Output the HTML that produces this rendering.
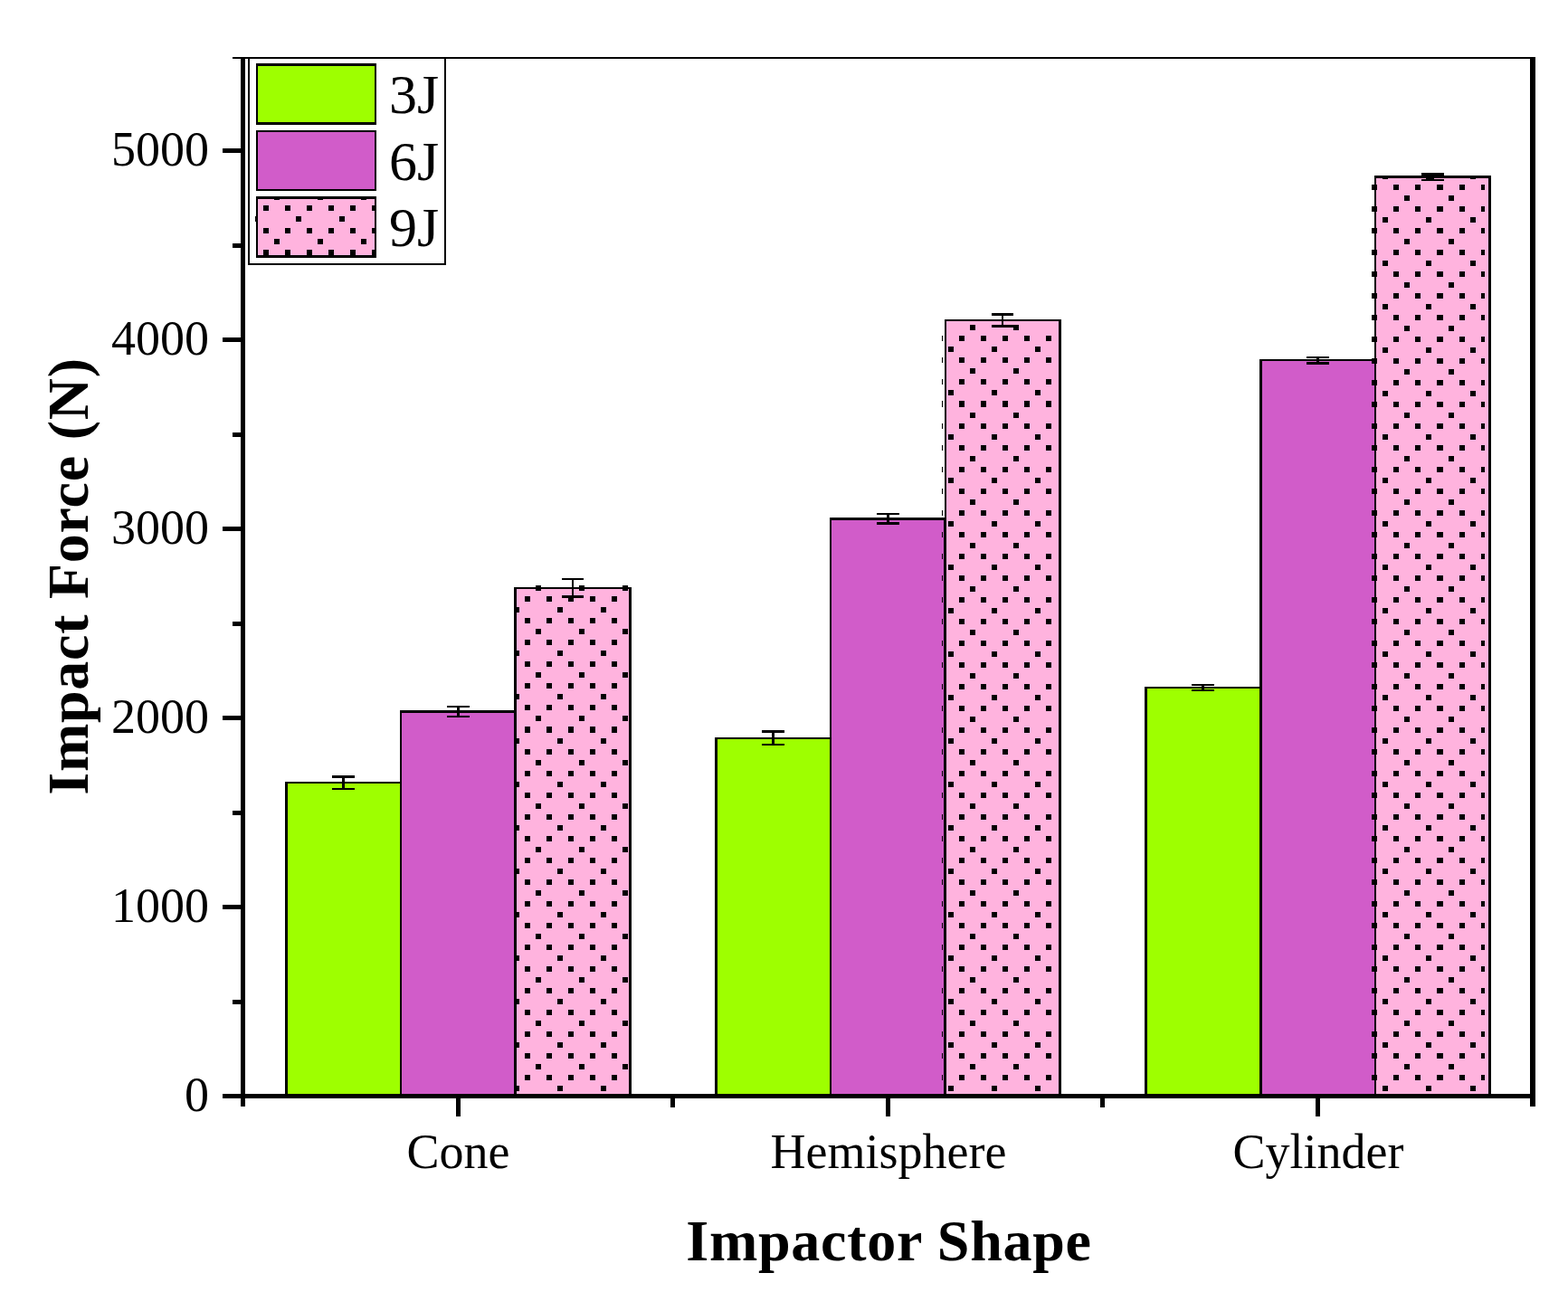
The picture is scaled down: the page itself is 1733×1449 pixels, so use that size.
<!DOCTYPE html>
<html lang="en"><head><meta charset="utf-8"><title>Impact Force vs Impactor Shape</title>
<style>
html,body{margin:0;padding:0;background:#fff;}
body{width:1733px;height:1449px;overflow:hidden;}
svg{display:block;}
text{font-family:"Liberation Serif",serif;fill:#000;}
.t{font-size:54px;}
.l{font-size:62px;}
.b{font-size:64px;font-weight:bold;letter-spacing:0.75px;}
</style></head><body>
<svg width="1733" height="1449" viewBox="0 0 1733 1449">
<rect width="1733" height="1449" fill="#fff"/>

<g shape-rendering="crispEdges">
<rect x="315" y="864" width="129" height="347" fill="#000"/>
<rect x="318" y="866" width="124" height="345" fill="#9EFF00"/>
<rect x="442" y="785" width="129" height="426" fill="#000"/>
<rect x="444" y="788" width="124" height="423" fill="#D15CC9"/>
<rect x="568" y="649" width="130" height="562" fill="#000"/>
<rect x="571" y="651" width="124" height="560" fill="#FFB3DE"/>
<rect x="790" y="815" width="129" height="396" fill="#000"/>
<rect x="793" y="817" width="124" height="394" fill="#9EFF00"/>
<rect x="917" y="572" width="129" height="639" fill="#000"/>
<rect x="919" y="575" width="124" height="636" fill="#D15CC9"/>
<rect x="1044" y="353" width="129" height="858" fill="#000"/>
<rect x="1046" y="355" width="124" height="856" fill="#FFB3DE"/>
<rect x="1265" y="759" width="130" height="452" fill="#000"/>
<rect x="1268" y="761" width="124" height="450" fill="#9EFF00"/>
<rect x="1392" y="397" width="129" height="814" fill="#000"/>
<rect x="1395" y="399" width="124" height="812" fill="#D15CC9"/>
<rect x="1519" y="194" width="129" height="1017" fill="#000"/>
<rect x="1521" y="197" width="124" height="1014" fill="#FFB3DE"/>
<path d="M592 647h6v6h-6zM640 647h6v6h-6zM688 647h6v6h-6zM580 659h6v6h-6zM604 659h6v6h-6zM628 659h6v6h-6zM652 659h6v6h-6zM676 659h6v6h-6zM568 671h6v6h-6zM616 671h6v6h-6zM664 671h6v6h-6zM580 683h6v6h-6zM604 683h6v6h-6zM628 683h6v6h-6zM652 683h6v6h-6zM676 683h6v6h-6zM592 695h6v6h-6zM640 695h6v6h-6zM688 695h6v6h-6zM580 707h6v6h-6zM604 707h6v6h-6zM628 707h6v6h-6zM652 707h6v6h-6zM676 707h6v6h-6zM568 719h6v6h-6zM616 719h6v6h-6zM664 719h6v6h-6zM580 731h6v6h-6zM604 731h6v6h-6zM628 731h6v6h-6zM652 731h6v6h-6zM676 731h6v6h-6zM592 743h6v6h-6zM640 743h6v6h-6zM688 743h6v6h-6zM580 755h6v6h-6zM604 755h6v6h-6zM628 755h6v6h-6zM652 755h6v6h-6zM676 755h6v6h-6zM568 767h6v6h-6zM616 767h6v6h-6zM664 767h6v6h-6zM580 779h6v6h-6zM604 779h6v6h-6zM628 779h6v6h-6zM652 779h6v6h-6zM676 779h6v6h-6zM592 791h6v6h-6zM640 791h6v6h-6zM688 791h6v6h-6zM580 803h6v7h-6zM604 803h6v7h-6zM628 803h6v7h-6zM652 803h6v7h-6zM676 803h6v7h-6zM568 816h6v6h-6zM616 816h6v6h-6zM664 816h6v6h-6zM580 828h6v6h-6zM604 828h6v6h-6zM628 828h6v6h-6zM652 828h6v6h-6zM676 828h6v6h-6zM592 840h6v6h-6zM640 840h6v6h-6zM688 840h6v6h-6zM580 852h6v6h-6zM604 852h6v6h-6zM628 852h6v6h-6zM652 852h6v6h-6zM676 852h6v6h-6zM568 864h6v6h-6zM616 864h6v6h-6zM664 864h6v6h-6zM580 876h6v6h-6zM604 876h6v6h-6zM628 876h6v6h-6zM652 876h6v6h-6zM676 876h6v6h-6zM592 888h6v6h-6zM640 888h6v6h-6zM688 888h6v6h-6zM580 900h6v6h-6zM604 900h6v6h-6zM628 900h6v6h-6zM652 900h6v6h-6zM676 900h6v6h-6zM568 912h6v6h-6zM616 912h6v6h-6zM664 912h6v6h-6zM580 924h6v6h-6zM604 924h6v6h-6zM628 924h6v6h-6zM652 924h6v6h-6zM676 924h6v6h-6zM592 936h6v6h-6zM640 936h6v6h-6zM688 936h6v6h-6zM580 948h6v6h-6zM604 948h6v6h-6zM628 948h6v6h-6zM652 948h6v6h-6zM676 948h6v6h-6zM568 960h6v6h-6zM616 960h6v6h-6zM664 960h6v6h-6zM580 972h6v6h-6zM604 972h6v6h-6zM628 972h6v6h-6zM652 972h6v6h-6zM676 972h6v6h-6zM592 984h6v6h-6zM640 984h6v6h-6zM688 984h6v6h-6zM580 996h6v6h-6zM604 996h6v6h-6zM628 996h6v6h-6zM652 996h6v6h-6zM676 996h6v6h-6zM568 1008h6v6h-6zM616 1008h6v6h-6zM664 1008h6v6h-6zM580 1020h6v6h-6zM604 1020h6v6h-6zM628 1020h6v6h-6zM652 1020h6v6h-6zM676 1020h6v6h-6zM592 1032h6v6h-6zM640 1032h6v6h-6zM688 1032h6v6h-6zM580 1044h6v6h-6zM604 1044h6v6h-6zM628 1044h6v6h-6zM652 1044h6v6h-6zM676 1044h6v6h-6zM568 1056h6v6h-6zM616 1056h6v6h-6zM664 1056h6v6h-6zM580 1068h6v6h-6zM604 1068h6v6h-6zM628 1068h6v6h-6zM652 1068h6v6h-6zM676 1068h6v6h-6zM592 1080h6v6h-6zM640 1080h6v6h-6zM688 1080h6v6h-6zM580 1092h6v6h-6zM604 1092h6v6h-6zM628 1092h6v6h-6zM652 1092h6v6h-6zM676 1092h6v6h-6zM568 1104h6v6h-6zM616 1104h6v6h-6zM664 1104h6v6h-6zM580 1116h6v6h-6zM604 1116h6v6h-6zM628 1116h6v6h-6zM652 1116h6v6h-6zM676 1116h6v6h-6zM592 1128h6v6h-6zM640 1128h6v6h-6zM688 1128h6v6h-6zM580 1140h6v6h-6zM604 1140h6v6h-6zM628 1140h6v6h-6zM652 1140h6v6h-6zM676 1140h6v6h-6zM568 1152h6v6h-6zM616 1152h6v6h-6zM664 1152h6v6h-6zM580 1164h6v6h-6zM604 1164h6v6h-6zM628 1164h6v6h-6zM652 1164h6v6h-6zM676 1164h6v6h-6zM592 1176h6v6h-6zM640 1176h6v6h-6zM688 1176h6v6h-6zM580 1188h6v6h-6zM604 1188h6v6h-6zM628 1188h6v6h-6zM652 1188h6v6h-6zM676 1188h6v6h-6zM568 1200h6v6h-6zM616 1200h6v6h-6zM664 1200h6v6h-6z"/>
<path d="M1072 359h6v6h-6zM1120 359h6v6h-6zM1041 371h1v6h-1zM1060 371h6v6h-6zM1084 371h6v6h-6zM1108 371h6v6h-6zM1132 371h6v6h-6zM1156 371h6v6h-6zM1048 383h6v6h-6zM1096 383h6v6h-6zM1144 383h6v6h-6zM1041 395h1v6h-1zM1060 395h6v6h-6zM1084 395h6v6h-6zM1108 395h6v6h-6zM1132 395h6v6h-6zM1156 395h6v6h-6zM1072 407h6v6h-6zM1120 407h6v6h-6zM1041 419h1v6h-1zM1060 419h6v6h-6zM1084 419h6v6h-6zM1108 419h6v6h-6zM1132 419h6v6h-6zM1156 419h6v6h-6zM1048 431h6v6h-6zM1096 431h6v6h-6zM1144 431h6v6h-6zM1041 443h1v7h-1zM1060 443h6v7h-6zM1084 443h6v7h-6zM1108 443h6v7h-6zM1132 443h6v7h-6zM1156 443h6v7h-6zM1072 456h6v6h-6zM1120 456h6v6h-6zM1041 468h1v6h-1zM1060 468h6v6h-6zM1084 468h6v6h-6zM1108 468h6v6h-6zM1132 468h6v6h-6zM1156 468h6v6h-6zM1048 480h6v6h-6zM1096 480h6v6h-6zM1144 480h6v6h-6zM1041 492h1v6h-1zM1060 492h6v6h-6zM1084 492h6v6h-6zM1108 492h6v6h-6zM1132 492h6v6h-6zM1156 492h6v6h-6zM1072 504h6v6h-6zM1120 504h6v6h-6zM1041 516h1v6h-1zM1060 516h6v6h-6zM1084 516h6v6h-6zM1108 516h6v6h-6zM1132 516h6v6h-6zM1156 516h6v6h-6zM1048 528h6v6h-6zM1096 528h6v6h-6zM1144 528h6v6h-6zM1041 540h1v6h-1zM1060 540h6v6h-6zM1084 540h6v6h-6zM1108 540h6v6h-6zM1132 540h6v6h-6zM1156 540h6v6h-6zM1072 552h6v6h-6zM1120 552h6v6h-6zM1041 564h1v6h-1zM1060 564h6v6h-6zM1084 564h6v6h-6zM1108 564h6v6h-6zM1132 564h6v6h-6zM1156 564h6v6h-6zM1048 576h6v6h-6zM1096 576h6v6h-6zM1144 576h6v6h-6zM1041 588h1v6h-1zM1060 588h6v6h-6zM1084 588h6v6h-6zM1108 588h6v6h-6zM1132 588h6v6h-6zM1156 588h6v6h-6zM1072 600h6v6h-6zM1120 600h6v6h-6zM1041 612h1v6h-1zM1060 612h6v6h-6zM1084 612h6v6h-6zM1108 612h6v6h-6zM1132 612h6v6h-6zM1156 612h6v6h-6zM1048 624h6v6h-6zM1096 624h6v6h-6zM1144 624h6v6h-6zM1041 636h1v6h-1zM1060 636h6v6h-6zM1084 636h6v6h-6zM1108 636h6v6h-6zM1132 636h6v6h-6zM1156 636h6v6h-6zM1072 648h6v6h-6zM1120 648h6v6h-6zM1041 660h1v6h-1zM1060 660h6v6h-6zM1084 660h6v6h-6zM1108 660h6v6h-6zM1132 660h6v6h-6zM1156 660h6v6h-6zM1048 672h6v6h-6zM1096 672h6v6h-6zM1144 672h6v6h-6zM1041 684h1v6h-1zM1060 684h6v6h-6zM1084 684h6v6h-6zM1108 684h6v6h-6zM1132 684h6v6h-6zM1156 684h6v6h-6zM1072 696h6v6h-6zM1120 696h6v6h-6zM1041 708h1v6h-1zM1060 708h6v6h-6zM1084 708h6v6h-6zM1108 708h6v6h-6zM1132 708h6v6h-6zM1156 708h6v6h-6zM1048 720h6v6h-6zM1096 720h6v6h-6zM1144 720h6v6h-6zM1041 732h1v6h-1zM1060 732h6v6h-6zM1084 732h6v6h-6zM1108 732h6v6h-6zM1132 732h6v6h-6zM1156 732h6v6h-6zM1072 744h6v6h-6zM1120 744h6v6h-6zM1041 756h1v6h-1zM1060 756h6v6h-6zM1084 756h6v6h-6zM1108 756h6v6h-6zM1132 756h6v6h-6zM1156 756h6v6h-6zM1048 768h6v6h-6zM1096 768h6v6h-6zM1144 768h6v6h-6zM1041 780h1v6h-1zM1060 780h6v6h-6zM1084 780h6v6h-6zM1108 780h6v6h-6zM1132 780h6v6h-6zM1156 780h6v6h-6zM1072 792h6v6h-6zM1120 792h6v6h-6zM1041 804h1v6h-1zM1060 804h6v6h-6zM1084 804h6v6h-6zM1108 804h6v6h-6zM1132 804h6v6h-6zM1156 804h6v6h-6zM1048 816h6v6h-6zM1096 816h6v6h-6zM1144 816h6v6h-6zM1041 828h1v6h-1zM1060 828h6v6h-6zM1084 828h6v6h-6zM1108 828h6v6h-6zM1132 828h6v6h-6zM1156 828h6v6h-6zM1072 840h6v6h-6zM1120 840h6v6h-6zM1041 852h1v6h-1zM1060 852h6v6h-6zM1084 852h6v6h-6zM1108 852h6v6h-6zM1132 852h6v6h-6zM1156 852h6v6h-6zM1048 864h6v6h-6zM1096 864h6v6h-6zM1144 864h6v6h-6zM1041 876h1v6h-1zM1060 876h6v6h-6zM1084 876h6v6h-6zM1108 876h6v6h-6zM1132 876h6v6h-6zM1156 876h6v6h-6zM1072 888h6v6h-6zM1120 888h6v6h-6zM1041 900h1v6h-1zM1060 900h6v6h-6zM1084 900h6v6h-6zM1108 900h6v6h-6zM1132 900h6v6h-6zM1156 900h6v6h-6zM1048 912h6v6h-6zM1096 912h6v6h-6zM1144 912h6v6h-6zM1041 924h1v6h-1zM1060 924h6v6h-6zM1084 924h6v6h-6zM1108 924h6v6h-6zM1132 924h6v6h-6zM1156 924h6v6h-6zM1072 936h6v6h-6zM1120 936h6v6h-6zM1041 948h1v6h-1zM1060 948h6v6h-6zM1084 948h6v6h-6zM1108 948h6v6h-6zM1132 948h6v6h-6zM1156 948h6v6h-6zM1048 960h6v6h-6zM1096 960h6v6h-6zM1144 960h6v6h-6zM1041 972h1v6h-1zM1060 972h6v6h-6zM1084 972h6v6h-6zM1108 972h6v6h-6zM1132 972h6v6h-6zM1156 972h6v6h-6zM1072 984h6v6h-6zM1120 984h6v6h-6zM1041 996h1v6h-1zM1060 996h6v6h-6zM1084 996h6v6h-6zM1108 996h6v6h-6zM1132 996h6v6h-6zM1156 996h6v6h-6zM1048 1008h6v6h-6zM1096 1008h6v6h-6zM1144 1008h6v6h-6zM1041 1020h1v6h-1zM1060 1020h6v6h-6zM1084 1020h6v6h-6zM1108 1020h6v6h-6zM1132 1020h6v6h-6zM1156 1020h6v6h-6zM1072 1032h6v6h-6zM1120 1032h6v6h-6zM1041 1044h1v6h-1zM1060 1044h6v6h-6zM1084 1044h6v6h-6zM1108 1044h6v6h-6zM1132 1044h6v6h-6zM1156 1044h6v6h-6zM1048 1056h6v6h-6zM1096 1056h6v6h-6zM1144 1056h6v6h-6zM1041 1068h1v6h-1zM1060 1068h6v6h-6zM1084 1068h6v6h-6zM1108 1068h6v6h-6zM1132 1068h6v6h-6zM1156 1068h6v6h-6zM1072 1080h6v6h-6zM1120 1080h6v6h-6zM1041 1092h1v6h-1zM1060 1092h6v6h-6zM1084 1092h6v6h-6zM1108 1092h6v6h-6zM1132 1092h6v6h-6zM1156 1092h6v6h-6zM1048 1104h6v6h-6zM1096 1104h6v6h-6zM1144 1104h6v6h-6zM1041 1116h1v6h-1zM1060 1116h6v6h-6zM1084 1116h6v6h-6zM1108 1116h6v6h-6zM1132 1116h6v6h-6zM1156 1116h6v6h-6zM1072 1128h6v6h-6zM1120 1128h6v6h-6zM1041 1140h1v6h-1zM1060 1140h6v6h-6zM1084 1140h6v6h-6zM1108 1140h6v6h-6zM1132 1140h6v6h-6zM1156 1140h6v6h-6zM1048 1152h6v6h-6zM1096 1152h6v6h-6zM1144 1152h6v6h-6zM1041 1164h1v6h-1zM1060 1164h6v6h-6zM1084 1164h6v6h-6zM1108 1164h6v6h-6zM1132 1164h6v6h-6zM1156 1164h6v6h-6zM1072 1176h6v6h-6zM1120 1176h6v6h-6zM1041 1188h1v6h-1zM1060 1188h6v6h-6zM1084 1188h6v6h-6zM1108 1188h6v6h-6zM1132 1188h6v6h-6zM1156 1188h6v6h-6zM1048 1200h6v6h-6zM1096 1200h6v6h-6zM1144 1200h6v6h-6z"/>
<path d="M1528 194h6v4h-6zM1576 194h6v4h-6zM1625 194h6v4h-6zM1516 204h6v6h-6zM1540 204h6v6h-6zM1564 204h6v6h-6zM1588 204h7v6h-7zM1613 204h6v6h-6zM1637 204h4v6h-4zM1552 216h6v6h-6zM1601 216h6v6h-6zM1516 228h6v6h-6zM1540 228h6v6h-6zM1564 228h6v6h-6zM1588 228h7v6h-7zM1613 228h6v6h-6zM1637 228h4v6h-4zM1528 240h6v6h-6zM1576 240h6v6h-6zM1625 240h6v6h-6zM1516 252h6v6h-6zM1540 252h6v6h-6zM1564 252h6v6h-6zM1588 252h7v6h-7zM1613 252h6v6h-6zM1637 252h4v6h-4zM1552 264h6v6h-6zM1601 264h6v6h-6zM1516 276h6v6h-6zM1540 276h6v6h-6zM1564 276h6v6h-6zM1588 276h7v6h-7zM1613 276h6v6h-6zM1637 276h4v6h-4zM1528 288h6v6h-6zM1576 288h6v6h-6zM1625 288h6v6h-6zM1516 300h6v6h-6zM1540 300h6v6h-6zM1564 300h6v6h-6zM1588 300h7v6h-7zM1613 300h6v6h-6zM1637 300h4v6h-4zM1552 312h6v6h-6zM1601 312h6v6h-6zM1516 324h6v6h-6zM1540 324h6v6h-6zM1564 324h6v6h-6zM1588 324h7v6h-7zM1613 324h6v6h-6zM1637 324h4v6h-4zM1528 336h6v6h-6zM1576 336h6v6h-6zM1625 336h6v6h-6zM1516 348h6v6h-6zM1540 348h6v6h-6zM1564 348h6v6h-6zM1588 348h7v6h-7zM1613 348h6v6h-6zM1637 348h4v6h-4zM1552 360h6v6h-6zM1601 360h6v6h-6zM1516 372h6v6h-6zM1540 372h6v6h-6zM1564 372h6v6h-6zM1588 372h7v6h-7zM1613 372h6v6h-6zM1637 372h4v6h-4zM1528 384h6v6h-6zM1576 384h6v6h-6zM1625 384h6v6h-6zM1516 396h6v6h-6zM1540 396h6v6h-6zM1564 396h6v6h-6zM1588 396h7v6h-7zM1613 396h6v6h-6zM1637 396h4v6h-4zM1552 408h6v6h-6zM1601 408h6v6h-6zM1516 420h6v6h-6zM1540 420h6v6h-6zM1564 420h6v6h-6zM1588 420h7v6h-7zM1613 420h6v6h-6zM1637 420h4v6h-4zM1528 432h6v6h-6zM1576 432h6v6h-6zM1625 432h6v6h-6zM1516 444h6v6h-6zM1540 444h6v6h-6zM1564 444h6v6h-6zM1588 444h7v6h-7zM1613 444h6v6h-6zM1637 444h4v6h-4zM1552 456h6v6h-6zM1601 456h6v6h-6zM1516 468h6v6h-6zM1540 468h6v6h-6zM1564 468h6v6h-6zM1588 468h7v6h-7zM1613 468h6v6h-6zM1637 468h4v6h-4zM1528 480h6v6h-6zM1576 480h6v6h-6zM1625 480h6v6h-6zM1516 492h6v6h-6zM1540 492h6v6h-6zM1564 492h6v6h-6zM1588 492h7v6h-7zM1613 492h6v6h-6zM1637 492h4v6h-4zM1552 504h6v6h-6zM1601 504h6v6h-6zM1516 516h6v6h-6zM1540 516h6v6h-6zM1564 516h6v6h-6zM1588 516h7v6h-7zM1613 516h6v6h-6zM1637 516h4v6h-4zM1528 528h6v6h-6zM1576 528h6v6h-6zM1625 528h6v6h-6zM1516 540h6v6h-6zM1540 540h6v6h-6zM1564 540h6v6h-6zM1588 540h7v6h-7zM1613 540h6v6h-6zM1637 540h4v6h-4zM1552 552h6v6h-6zM1601 552h6v6h-6zM1516 564h6v6h-6zM1540 564h6v6h-6zM1564 564h6v6h-6zM1588 564h7v6h-7zM1613 564h6v6h-6zM1637 564h4v6h-4zM1528 576h6v6h-6zM1576 576h6v6h-6zM1625 576h6v6h-6zM1516 588h6v6h-6zM1540 588h6v6h-6zM1564 588h6v6h-6zM1588 588h7v6h-7zM1613 588h6v6h-6zM1637 588h4v6h-4zM1552 600h6v6h-6zM1601 600h6v6h-6zM1516 612h6v6h-6zM1540 612h6v6h-6zM1564 612h6v6h-6zM1588 612h7v6h-7zM1613 612h6v6h-6zM1637 612h4v6h-4zM1528 624h6v6h-6zM1576 624h6v6h-6zM1625 624h6v6h-6zM1516 636h6v6h-6zM1540 636h6v6h-6zM1564 636h6v6h-6zM1588 636h7v6h-7zM1613 636h6v6h-6zM1637 636h4v6h-4zM1552 648h6v6h-6zM1601 648h6v6h-6zM1516 660h6v6h-6zM1540 660h6v6h-6zM1564 660h6v6h-6zM1588 660h7v6h-7zM1613 660h6v6h-6zM1637 660h4v6h-4zM1528 672h6v6h-6zM1576 672h6v6h-6zM1625 672h6v6h-6zM1516 684h6v6h-6zM1540 684h6v6h-6zM1564 684h6v6h-6zM1588 684h7v6h-7zM1613 684h6v6h-6zM1637 684h4v6h-4zM1552 696h6v6h-6zM1601 696h6v6h-6zM1516 708h6v6h-6zM1540 708h6v6h-6zM1564 708h6v6h-6zM1588 708h7v6h-7zM1613 708h6v6h-6zM1637 708h4v6h-4zM1528 720h6v6h-6zM1576 720h6v6h-6zM1625 720h6v6h-6zM1516 732h6v6h-6zM1540 732h6v6h-6zM1564 732h6v6h-6zM1588 732h7v6h-7zM1613 732h6v6h-6zM1637 732h4v6h-4zM1552 744h6v6h-6zM1601 744h6v6h-6zM1516 756h6v6h-6zM1540 756h6v6h-6zM1564 756h6v6h-6zM1588 756h7v6h-7zM1613 756h6v6h-6zM1637 756h4v6h-4zM1528 768h6v6h-6zM1576 768h6v6h-6zM1625 768h6v6h-6zM1516 780h6v6h-6zM1540 780h6v6h-6zM1564 780h6v6h-6zM1588 780h7v6h-7zM1613 780h6v6h-6zM1637 780h4v6h-4zM1552 792h6v6h-6zM1601 792h6v6h-6zM1516 804h6v6h-6zM1540 804h6v6h-6zM1564 804h6v6h-6zM1588 804h7v6h-7zM1613 804h6v6h-6zM1637 804h4v6h-4zM1528 816h6v6h-6zM1576 816h6v6h-6zM1625 816h6v6h-6zM1516 828h6v6h-6zM1540 828h6v6h-6zM1564 828h6v6h-6zM1588 828h7v6h-7zM1613 828h6v6h-6zM1637 828h4v6h-4zM1552 840h6v6h-6zM1601 840h6v6h-6zM1516 852h6v6h-6zM1540 852h6v6h-6zM1564 852h6v6h-6zM1588 852h7v6h-7zM1613 852h6v6h-6zM1637 852h4v6h-4zM1528 864h6v6h-6zM1576 864h6v6h-6zM1625 864h6v6h-6zM1516 876h6v6h-6zM1540 876h6v6h-6zM1564 876h6v6h-6zM1588 876h7v6h-7zM1613 876h6v6h-6zM1637 876h4v6h-4zM1552 888h6v6h-6zM1601 888h6v6h-6zM1516 900h6v6h-6zM1540 900h6v6h-6zM1564 900h6v6h-6zM1588 900h7v6h-7zM1613 900h6v6h-6zM1637 900h4v6h-4zM1528 912h6v6h-6zM1576 912h6v6h-6zM1625 912h6v6h-6zM1516 924h6v6h-6zM1540 924h6v6h-6zM1564 924h6v6h-6zM1588 924h7v6h-7zM1613 924h6v6h-6zM1637 924h4v6h-4zM1552 936h6v6h-6zM1601 936h6v6h-6zM1516 948h6v6h-6zM1540 948h6v6h-6zM1564 948h6v6h-6zM1588 948h7v6h-7zM1613 948h6v6h-6zM1637 948h4v6h-4zM1528 960h6v6h-6zM1576 960h6v6h-6zM1625 960h6v6h-6zM1516 972h6v6h-6zM1540 972h6v6h-6zM1564 972h6v6h-6zM1588 972h7v6h-7zM1613 972h6v6h-6zM1637 972h4v6h-4zM1552 984h6v6h-6zM1601 984h6v6h-6zM1516 996h6v6h-6zM1540 996h6v6h-6zM1564 996h6v6h-6zM1588 996h7v6h-7zM1613 996h6v6h-6zM1637 996h4v6h-4zM1528 1008h6v6h-6zM1576 1008h6v6h-6zM1625 1008h6v6h-6zM1516 1020h6v6h-6zM1540 1020h6v6h-6zM1564 1020h6v6h-6zM1588 1020h7v6h-7zM1613 1020h6v6h-6zM1637 1020h4v6h-4zM1552 1032h6v6h-6zM1601 1032h6v6h-6zM1516 1044h6v6h-6zM1540 1044h6v6h-6zM1564 1044h6v6h-6zM1588 1044h7v6h-7zM1613 1044h6v6h-6zM1637 1044h4v6h-4zM1528 1056h6v6h-6zM1576 1056h6v6h-6zM1625 1056h6v6h-6zM1516 1068h6v6h-6zM1540 1068h6v6h-6zM1564 1068h6v6h-6zM1588 1068h7v6h-7zM1613 1068h6v6h-6zM1637 1068h4v6h-4zM1552 1080h6v6h-6zM1601 1080h6v6h-6zM1516 1092h6v6h-6zM1540 1092h6v6h-6zM1564 1092h6v6h-6zM1588 1092h7v6h-7zM1613 1092h6v6h-6zM1637 1092h4v6h-4zM1528 1104h6v6h-6zM1576 1104h6v6h-6zM1625 1104h6v6h-6zM1516 1116h6v6h-6zM1540 1116h6v6h-6zM1564 1116h6v6h-6zM1588 1116h7v6h-7zM1613 1116h6v6h-6zM1637 1116h4v6h-4zM1552 1128h6v6h-6zM1601 1128h6v6h-6zM1516 1140h6v6h-6zM1540 1140h6v6h-6zM1564 1140h6v6h-6zM1588 1140h7v6h-7zM1613 1140h6v6h-6zM1637 1140h4v6h-4zM1528 1152h6v6h-6zM1576 1152h6v6h-6zM1625 1152h6v6h-6zM1516 1164h6v6h-6zM1540 1164h6v6h-6zM1564 1164h6v6h-6zM1588 1164h7v6h-7zM1613 1164h6v6h-6zM1637 1164h4v6h-4zM1552 1176h6v6h-6zM1601 1176h6v6h-6zM1516 1188h6v6h-6zM1540 1188h6v6h-6zM1564 1188h6v6h-6zM1588 1188h7v6h-7zM1613 1188h6v6h-6zM1637 1188h4v6h-4zM1528 1200h6v6h-6zM1576 1200h6v6h-6zM1625 1200h6v6h-6z"/>
<path d="M367 857H392V860H367zM367 871H392V873H367zM378 857H381V873H378z"/>
<path d="M494 780H519V782H494zM494 791H519V793H494zM505 780H508V793H505z"/>
<path d="M621 639H645V641H621zM621 658H645V661H621zM632 639H634V661H632z"/>
<path d="M842 807H867V810H842zM842 822H867V824H842zM853 807H856V824H853z"/>
<path d="M969 567H994V569H969zM969 577H994V580H969zM980 567H983V580H980z"/>
<path d="M1096 346H1120V349H1096zM1096 359H1120V362H1096zM1107 346H1109V362H1107z"/>
<path d="M1317 756H1342V758H1317zM1317 762H1342V764H1317zM1328 756H1331V764H1328z"/>
<path d="M1444 394H1469V396H1444zM1444 400H1469V403H1444zM1455 394H1458V403H1455z"/>
<path d="M1571 191H1596V194H1571zM1571 198H1596V200H1571zM1582 191H1585V200H1582z"/>
<rect x="266" y="63" width="5" height="1160"/>
<rect x="1691" y="63" width="6" height="1160"/>
<rect x="257" y="63" width="1440" height="2"/>
<rect x="246" y="1209" width="1451" height="5"/>
<rect x="257" y="1104.5" width="9" height="5"/>
<rect x="246" y="1000.0" width="20" height="5"/>
<rect x="257" y="895.5" width="9" height="5"/>
<rect x="246" y="791.0" width="20" height="5"/>
<rect x="257" y="686.5" width="9" height="5"/>
<rect x="246" y="582.0" width="20" height="5"/>
<rect x="257" y="477.5" width="9" height="5"/>
<rect x="246" y="373.0" width="20" height="5"/>
<rect x="257" y="268.5" width="9" height="5"/>
<rect x="246" y="164.0" width="20" height="5"/>
<rect x="504.0" y="1214" width="5" height="20"/>
<rect x="979.0" y="1214" width="5" height="20"/>
<rect x="1454.0" y="1214" width="5" height="20"/>
<rect x="741.0" y="1214" width="5" height="10"/>
<rect x="1216.0" y="1214" width="5" height="10"/>
<rect x="274" y="63" width="219" height="230"/>
<rect x="276" y="65" width="215" height="226" fill="#fff"/>
<rect x="283" y="70" width="133" height="68"/>
<rect x="285" y="73" width="129" height="62" fill="#9EFF00"/>
<rect x="283" y="144" width="133" height="67"/>
<rect x="285" y="146" width="129" height="62.5" fill="#D15CC9"/>
<rect x="283" y="217" width="133" height="68"/>
<rect x="285" y="220" width="129" height="62" fill="#FFB3DE"/>
<path d="M291 227h6v6h-6zM315 227h6v6h-6zM339 227h6v6h-6zM363 227h6v6h-6zM387 227h6v6h-6zM411 227h3v6h-3zM291 252h6v6h-6zM315 252h6v6h-6zM339 252h6v6h-6zM363 252h6v6h-6zM387 252h6v6h-6zM411 252h3v6h-3zM291 276h6v6h-6zM315 276h6v6h-6zM339 276h6v6h-6zM363 276h6v6h-6zM387 276h6v6h-6zM411 276h3v6h-3zM282 239h3v6h-3zM327 239h6v6h-6zM375 239h6v6h-6zM303 220h6v1h-6zM351 220h6v1h-6zM399 220h6v1h-6zM303 264h6v6h-6zM351 264h6v6h-6zM399 264h6v6h-6z"/>
</g>
<text class="t" x="231" y="1227.5" text-anchor="end">0</text>
<text class="t" x="231" y="1018.5" text-anchor="end">1000</text>
<text class="t" x="231" y="809.5" text-anchor="end">2000</text>
<text class="t" x="231" y="600.5" text-anchor="end">3000</text>
<text class="t" x="231" y="391.5" text-anchor="end">4000</text>
<text class="t" x="231" y="182.5" text-anchor="end">5000</text>
<text class="t" x="506.5" y="1291" text-anchor="middle">Cone</text>
<text class="t" x="982" y="1291" text-anchor="middle">Hemisphere</text>
<text class="t" x="1457" y="1291" text-anchor="middle">Cylinder</text>
<text class="b" x="982.5" y="1392.5" text-anchor="middle">Impactor Shape</text>
<text class="b" transform="translate(97 637) rotate(-90)" text-anchor="middle">Impact Force (N)</text>
<text class="l" x="430" y="125.0">3J</text>
<text class="l" x="430" y="198.5">6J</text>
<text class="l" x="430" y="272.0">9J</text>
</svg>
</body></html>
